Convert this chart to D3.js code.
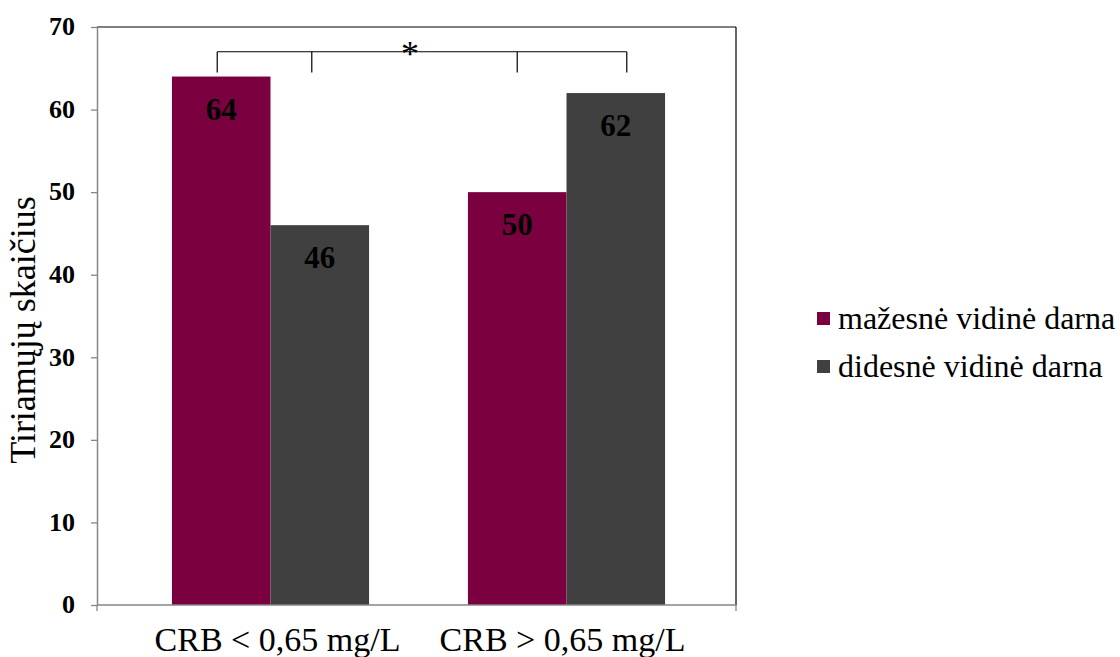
<!DOCTYPE html>
<html><head><meta charset="utf-8">
<script src="https://cdn.jsdelivr.net/npm/d3@7/dist/d3.min.js"></script>
<style>body{margin:0;background:#fff}svg{display:block}
svg text{font-family:"Liberation Serif","Times New Roman",Tinos,"DejaVu Serif",serif !important;}
</style>
</head><body><svg id="c" width="1120" height="657"></svg>
<script>
const categories = ["CRB < 0,65 mg/L", "CRB > 0,65 mg/L"];
const seriesNames = ["mažesnė vidinė darna", "didesnė vidinė darna"];
const seriesLower = [64, 50];
const seriesHigher = [46, 62];
const yTicks = [0, 10, 20, 30, 40, 50, 60, 70];
const yTitle = "Tiriamųjų skaičius";
const sigMark = "*";

const colors = ["#7a0040", "#404040"];
const svg = d3.select("#c");
const L = 97, R = 736, T = 27, B = 605;

const y = d3.scaleLinear().domain([0, 70]).range([B, T]);
const x = d3.scaleBand().domain(categories).range([122.5, 714.5]).paddingInner(0.334).paddingOuter(0.167);
const xs = d3.scaleBand().domain(seriesNames).range([0, x.bandwidth()]);

const data = categories.map((c, i) => ({c, vals: [seriesLower[i], seriesHigher[i]]}));

const g = svg.append("g");
data.forEach(d => {
  d.vals.forEach((v, j) => {
    g.append("rect").attr("x", x(d.c) + xs(seriesNames[j])).attr("y", y(v))
      .attr("width", xs.bandwidth()).attr("height", y(0) - y(v)).attr("fill", colors[j]);
    g.append("text").attr("x", x(d.c) + xs(seriesNames[j]) + xs.bandwidth() / 2).attr("y", y(v) + 43)
      .attr("text-anchor", "middle").style("font-weight", "bold")
      .style("font-size", "31px").attr("fill", "#000").text(v);
  });
});

svg.append("line").attr("x1", L).attr("x2", R).attr("y1", T).attr("y2", T).attr("stroke", "#000").attr("stroke-width", 1.2);
svg.append("line").attr("x1", R).attr("x2", R).attr("y1", T).attr("y2", B).attr("stroke", "#000").attr("stroke-width", 1.2);

const ya = svg.append("g").attr("transform", `translate(${L},0)`)
  .call(d3.axisLeft(y).tickValues(yTicks).tickSize(6).tickSizeOuter(0).tickPadding(16));
ya.select(".domain").attr("stroke", "#868686").attr("stroke-width", 1.5);
ya.selectAll(".tick line").attr("stroke", "#868686").attr("stroke-width", 1.3);
ya.selectAll("text").style("font-weight", "bold").style("font-size", "26px").attr("fill", "#000").attr("dy", "0.3em");

const xa = svg.append("g").attr("transform", `translate(0,${B})`)
  .call(d3.axisBottom(x).tickSize(0).tickPadding(46));
xa.select(".domain").remove();
xa.append("line").attr("x1", L).attr("x2", R).attr("stroke", "#868686").attr("stroke-width", 1.5);
[L, R].forEach(px => xa.append("line").attr("x1", px).attr("x2", px).attr("y1", 0).attr("y2", 6).attr("stroke", "#868686").attr("stroke-width", 1.3));
xa.selectAll(".tick text").style("font-size", "34px").attr("fill", "#000").attr("dy", "0")
  .attr("dx", (d, i) => i === 0 ? 7 : -4);

svg.append("text").attr("transform", `translate(35,330) rotate(-90)`)
  .attr("text-anchor", "middle").style("font-size", "36px").attr("fill", "#000").text(yTitle);

const cx = (ci, si) => x(categories[ci]) + xs(seriesNames[si]) + xs.bandwidth() / 2;
const yH = y(67.0), yD = y(64.5);
const xs0 = cx(0, 0) - 4, xs1 = cx(0, 1) - 8, xs2 = cx(1, 0), xs3 = cx(1, 1) + 11;
const br = svg.append("g").attr("stroke", "#000").attr("stroke-width", 1.2).attr("fill", "none");
br.append("line").attr("x1", xs0).attr("x2", xs3).attr("y1", yH).attr("y2", yH);
[xs0, xs1, xs2, xs3].forEach(px => br.append("line").attr("x1", px).attr("x2", px).attr("y1", yH).attr("y2", yD));
svg.append("text").attr("x", (xs0 + xs3) / 2 - 12).attr("y", yH + 14).attr("text-anchor", "middle")
  .style("font-size", "36px").attr("fill", "#000").text(sigMark);

const lg = svg.append("g").attr("transform", "translate(817,318)");
seriesNames.forEach((n, i) => {
  const row = lg.append("g").attr("transform", `translate(0,${i * 48})`);
  row.append("rect").attr("x", 0).attr("y", -6).attr("width", 13).attr("height", 13).attr("fill", colors[i]);
  row.append("text").attr("x", 21).attr("y", 0).attr("dy", "0.33em")
    .style("font-size", "32px").attr("fill", "#000").text(n);
});
</script></body></html>
